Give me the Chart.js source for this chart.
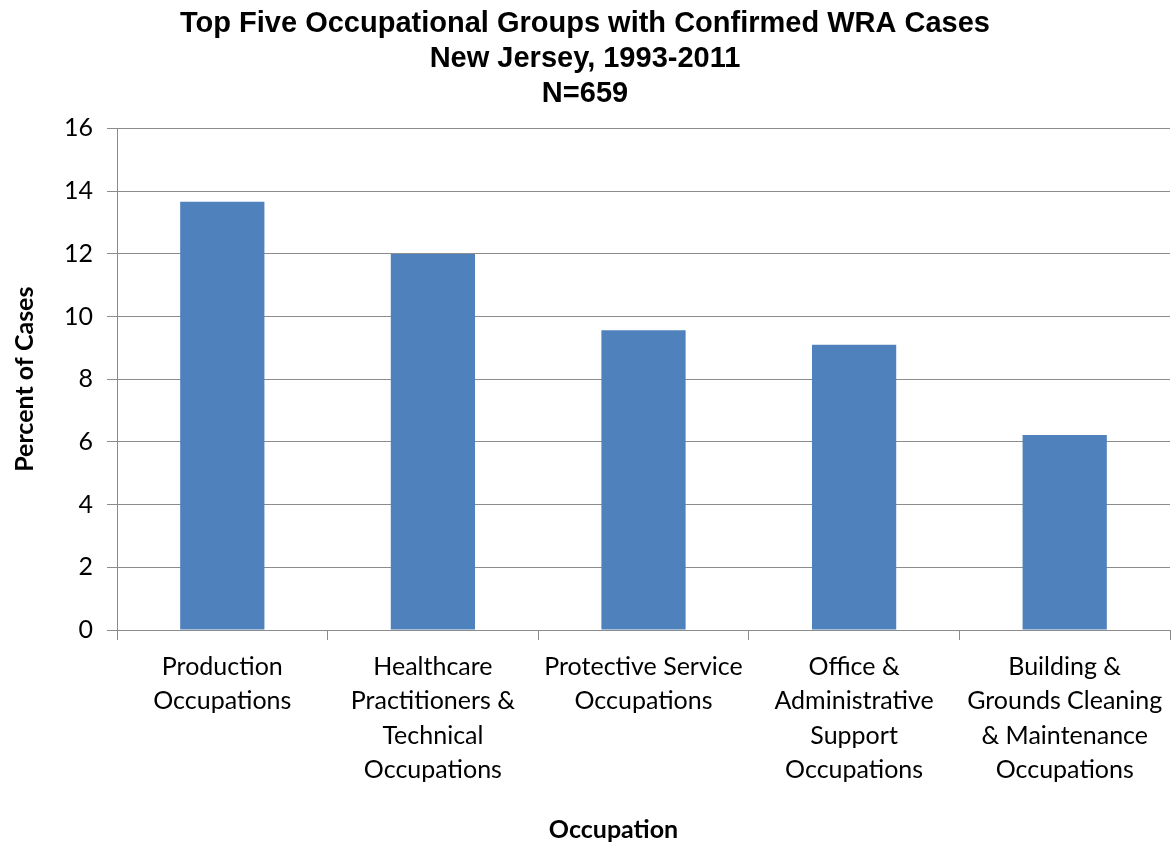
<!DOCTYPE html>
<html>
<head>
<meta charset="utf-8">
<script src="https://cdn.jsdelivr.net/npm/chart.js@4"></script>
<style>
  html, body { margin: 0; padding: 0; background: #fff; }
  #wrap { width: 1173px; height: 845px; }
</style>
</head>
<body>
<div id="wrap"><canvas id="wraChart"></canvas></div>
<script>
const occupations = [
    ['Production', 'Occupations'],
    ['Healthcare', 'Practitioners &', 'Technical', 'Occupations'],
    ['Protective Service', 'Occupations'],
    ['Office &', 'Administrative', 'Support', 'Occupations'],
    ['Building &', 'Grounds Cleaning', '& Maintenance', 'Occupations']
];
const percentOfCases = [13.66, 11.99, 9.56, 9.10, 6.22];
const titleLines = ['Top Five Occupational Groups with Confirmed WRA Cases', 'New Jersey, 1993-2011', 'N=659'];
const xAxisTitle = 'Occupation';

const labelFont = 'Lato, "Open Sans", sans-serif';
const gridGrey = '#8c8c8c';

// x axis title sits a little left of the plot centre in the original,
// so it is drawn here instead of by the scale
const xTitlePlugin = {
    id: 'xTitle',
    afterDraw(chart) {
        const c = chart.ctx;
        const area = chart.chartArea;
        c.save();
        c.font = 'bold 25px ' + labelFont;
        c.fillStyle = '#000';
        c.textAlign = 'center';
        c.textBaseline = 'middle';
        c.fillText(xAxisTitle, (area.left + area.right) / 2 - 30, chart.height - 15);
        c.restore();
    }
};

const ctx = document.getElementById('wraChart').getContext('2d');
const wraChart = new Chart(ctx, {
    type: 'bar',
    data: {
        labels: occupations,
        datasets: [{
            label: 'Percent of Cases',
            data: percentOfCases,
            backgroundColor: '#4f81bd',
            borderWidth: 0,
            categoryPercentage: 1.0,
            barPercentage: 0.4
        }]
    },
    plugins: [xTitlePlugin],
    options: {
        responsive: true,
        maintainAspectRatio: false,
        animation: false,
        layout: {
            padding: { left: 0, right: 3, top: 7, bottom: 48 }
        },
        plugins: {
            legend: { display: false },
            tooltip: { enabled: false },
            title: {
                display: true,
                text: titleLines,
                color: '#000',
                font: { family: '"Liberation Sans", Arial, sans-serif', size: 29, weight: 'bold', lineHeight: 1.2 },
                padding: { top: 0, bottom: 17 }
            }
        },
        scales: {
            x: {
                grid: {
                    drawOnChartArea: false,
                    drawTicks: true,
                    tickLength: 10,
                    color: gridGrey
                },
                border: { color: gridGrey, width: 1 },
                ticks: {
                    color: '#000',
                    maxRotation: 0,
                    autoSkip: false,
                    padding: 10,
                    font: { family: labelFont, size: 25, lineHeight: 1.37 }
                }
            },
            y: {
                min: 0,
                max: 16,
                ticks: {
                    stepSize: 2,
                    color: '#000',
                    padding: 14,
                    font: { family: labelFont, size: 25 }
                },
                grid: {
                    color: gridGrey,
                    tickLength: 10
                },
                border: { color: gridGrey, width: 1 },
                title: {
                    display: true,
                    text: 'Percent of Cases',
                    color: '#000',
                    font: { family: labelFont, size: 25, weight: 'bold' },
                    padding: { top: 10, bottom: 10 }
                }
            }
        }
    }
});
</script>
</body>
</html>
